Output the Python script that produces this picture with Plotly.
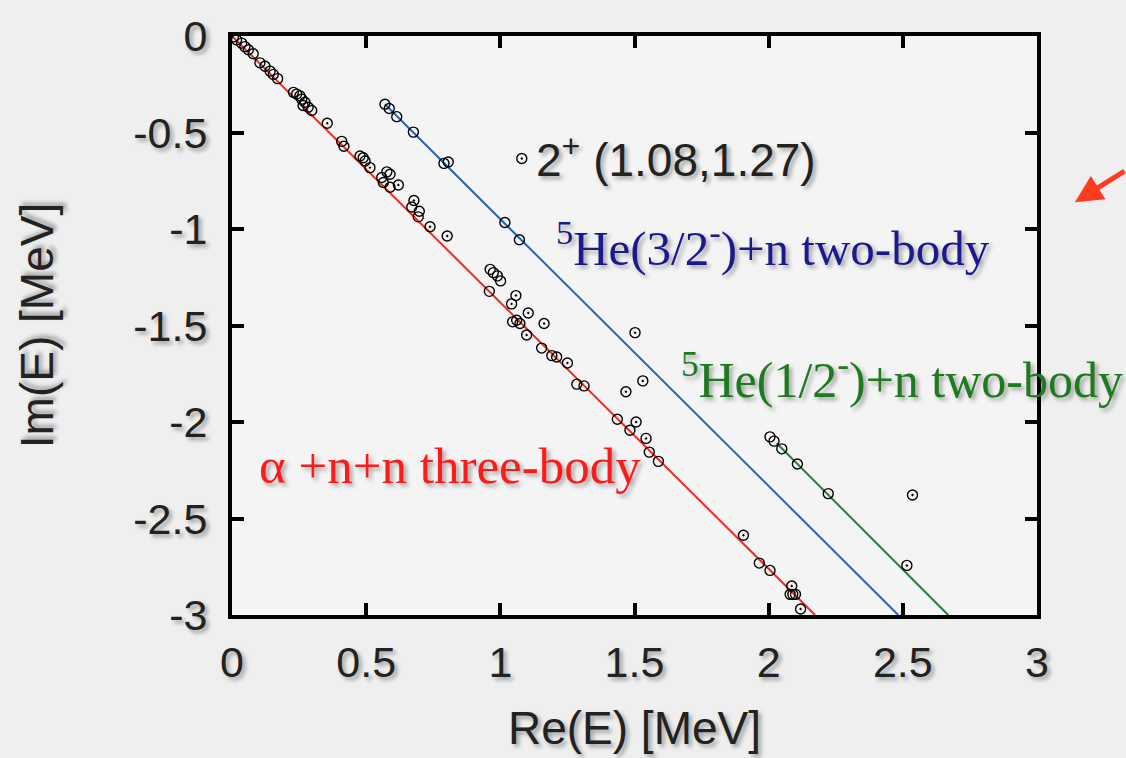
import plotly.graph_objects as go

# ---- data (MeV) ----
# open circles
circ_re = [0.005, 0.017, 0.036, 0.048, 0.061, 0.079, 0.104, 0.123, 0.142, 0.154, 0.170,
           0.229, 0.241, 0.253, 0.260, 0.265, 0.272, 0.284, 0.297,
           0.409, 0.417, 0.477, 0.489, 0.496, 0.558, 0.577, 0.589, 0.564, 0.589,
           0.670, 0.698, 0.694,
           0.962, 0.974, 0.989, 1.001, 0.959, 1.046, 1.061, 1.073, 1.154, 1.192, 1.210,
           1.285, 1.312,
           1.436, 1.483, 1.555, 1.589,
           1.965, 2.005, 2.080, 2.090, 2.100,
           0.570, 0.586, 0.614, 0.676, 0.790, 0.806, 1.017, 1.071,
           2.005, 2.020, 2.049, 2.107, 2.222]
circ_im = [-0.005, -0.020, -0.037, -0.055, -0.071, -0.092, -0.139, -0.157, -0.182, -0.199, -0.221,
           -0.292, -0.301, -0.310, -0.327, -0.360, -0.343, -0.369, -0.386,
           -0.546, -0.571, -0.622, -0.631, -0.648, -0.733, -0.704, -0.716, -0.759, -0.784,
           -0.886, -0.908, -0.937,
           -1.209, -1.226, -1.243, -1.269, -1.323, -1.481, -1.473, -1.490, -1.617, -1.656, -1.663,
           -1.804, -1.813,
           -1.986, -2.043, -2.156, -2.204,
           -2.731, -2.769, -2.893, -2.893, -2.893,
           -0.354, -0.376, -0.418, -0.498, -0.660, -0.653, -0.966, -1.056,
           -2.077, -2.099, -2.139, -2.218, -2.371]
# open circles with a dot
dot_re = [0.355, 0.514, 0.620, 0.678, 0.738, 0.802,
          1.058, 1.042, 1.104, 1.163, 1.098, 1.250,
          1.502, 1.531, 1.468, 1.506, 1.543,
          1.906, 2.086, 2.119,
          2.515, 2.536, 1.080]
dot_im = [-0.452, -0.682, -0.772, -0.852, -0.988, -1.036,
          -1.345, -1.388, -1.435, -1.490, -1.549, -1.694,
          -1.537, -1.787, -1.843, -2.000, -2.085,
          -2.587, -2.850, -2.969,
          -2.743, -2.378, -0.635]

# rotated continuum lines
three_re = [0.0, 2.173]
three_im = [0.0, -3.0]
he32_re = [0.570, 2.483]
he32_im = [-0.354, -3.0]
he12_re = [2.030, 2.669]
he12_im = [-2.110, -3.0]

x_ticks = [0, 0.5, 1, 1.5, 2, 2.5, 3]
x_ticklabels = ["0", "0.5", "1", "1.5", "2", "2.5", "3"]
y_ticks = [0, -0.5, -1, -1.5, -2, -2.5, -3]
y_ticklabels = ["0", "-0.5", "-1", "-1.5", "-2", "-2.5", "-3"]

SH = "3px 3px 4px rgba(0,0,0,0.35)"
SANS = "Liberation Sans, Arial, sans-serif"
SERIF = "Liberation Serif, serif"

fig = go.Figure()
fig.add_trace(go.Scatter(x=three_re, y=three_im, mode="lines",
                         line=dict(color="#f02a22", width=2), showlegend=False))
fig.add_trace(go.Scatter(x=he32_re, y=he32_im, mode="lines",
                         line=dict(color="#2c62b4", width=2), showlegend=False))
fig.add_trace(go.Scatter(x=he12_re, y=he12_im, mode="lines",
                         line=dict(color="#2e7a3c", width=2), showlegend=False))
fig.add_trace(go.Scatter(x=circ_re, y=circ_im, mode="markers",
                         marker=dict(symbol="circle-open", size=10, color="black",
                                     line=dict(width=1.4, color="black")),
                         showlegend=False))
fig.add_trace(go.Scatter(x=dot_re, y=dot_im, mode="markers",
                         marker=dict(symbol="circle-open-dot", size=10, color="black",
                                     line=dict(width=1.4, color="black")),
                         showlegend=False))

fig.add_annotation(x=1.125, y=-0.628, xref="x", yref="y", xanchor="left", yanchor="middle",
                   text="2<sup>+</sup> (1.08,1.27)", showarrow=False,
                   font=dict(family=SANS, size=46, color="#222222", shadow=SH))
fig.add_annotation(x=1.20, y=-1.08, xref="x", yref="y", xanchor="left", yanchor="middle",
                   text="<sup>5</sup>He(3/2<sup>-</sup>)+n two-body", showarrow=False,
                   font=dict(family=SERIF, size=49, color="#1a1a8c", shadow=SH))
fig.add_annotation(x=1.665, y=-1.765, xref="x", yref="y", xanchor="left", yanchor="middle",
                   text="<sup>5</sup>He(1/2<sup>-</sup>)+n two-body", showarrow=False,
                   font=dict(family=SERIF, size=50, color="#1e7a1e", shadow=SH))
fig.add_annotation(x=0.095, y=-2.23, xref="x", yref="y", xanchor="left", yanchor="middle",
                   text="\u03b1 +n+n three-body", showarrow=False,
                   font=dict(family=SERIF, size=51, color="#ff1a1a", shadow=SH))
# red arrow in the margin
fig.add_annotation(x=1.047, y=0.713, xref="paper", yref="paper",
                   ax=62, ay=-32, axref="pixel", ayref="pixel",
                   text="", showarrow=True, arrowhead=2, arrowsize=1.1, arrowwidth=5,
                   arrowcolor="#ff3b1f")

axis_common = dict(showline=True, linewidth=4, linecolor="black", mirror="ticks",
                   ticks="inside", ticklen=12, tickwidth=4, tickcolor="black",
                   showgrid=False, zeroline=False,
                   tickfont=dict(family=SANS, size=43, color="#222222", shadow=SH))
fig.update_xaxes(range=[0, 3], tickvals=x_ticks, ticktext=x_ticklabels,
                 title=dict(text="Re(E) [MeV]", standoff=28,
                            font=dict(family=SANS, size=46, color="#222222", shadow=SH)),
                 ticklabelstandoff=6,
                 **axis_common)
fig.update_yaxes(range=[-3, 0], tickvals=y_ticks, ticktext=y_ticklabels,
                 title=dict(text="Im(E) [MeV]", standoff=66,
                            font=dict(family=SANS, size=46, color="#222222", shadow=SH)),
                 ticklabelstandoff=12,
                 **axis_common)
fig.update_layout(width=1126, height=758,
                  margin=dict(l=232, r=89, t=28, b=142),
                  paper_bgcolor="#efefef", plot_bgcolor="#f4f4f4",
                  showlegend=False)
fig.write_html("out.html", config={"displayModeBar": False},
               post_script="document.body.style.margin='0';document.body.style.background='#efefef';")
